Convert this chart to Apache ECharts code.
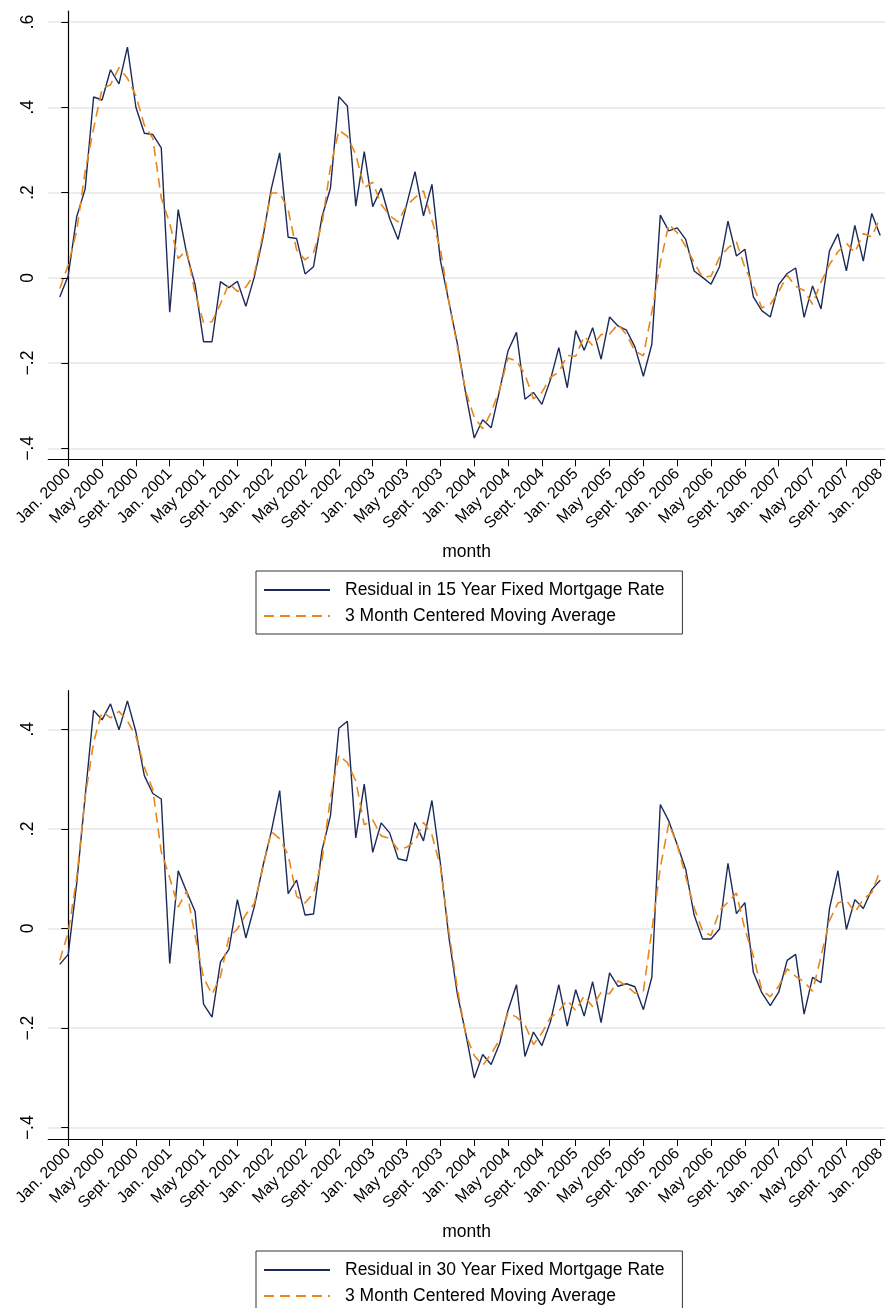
<!DOCTYPE html>
<html>
<head>
<meta charset="utf-8">
<script src="https://cdn.jsdelivr.net/npm/echarts@6/dist/echarts.min.js"></script>
<style>
  html, body { margin: 0; padding: 0; background: #fff; }
  #main { width: 888px; height: 1308px; }
</style>
</head>
<body>
<div id="main"></div>
<script>
// months run from Dec. 1999 (index -1) to Jan. 2008 (index 96)
var firstMonth = -1;

var xTicks = [0, 4, 8, 12, 16, 20, 24, 28, 32, 36, 40, 44, 48, 52, 56, 60, 64, 68, 72, 76, 80, 84, 88, 92, 96];
var xTickLabels = ['Jan. 2000', 'May 2000', 'Sept. 2000', 'Jan. 2001', 'May 2001', 'Sept. 2001',
    'Jan. 2002', 'May 2002', 'Sept. 2002', 'Jan. 2003', 'May 2003', 'Sept. 2003',
    'Jan. 2004', 'May 2004', 'Sept. 2004', 'Jan. 2005', 'May 2005', 'Sept. 2005',
    'Jan. 2006', 'May 2006', 'Sept. 2006', 'Jan. 2007', 'May 2007', 'Sept. 2007', 'Jan. 2008'];

var yTicksTop = [-0.4, -0.2, 0, 0.2, 0.4, 0.6];
var yLabelsTop = ['\u2212.4', '\u2212.2', '0', '.2', '.4', '.6'];
var yTicksBottom = [-0.4, -0.2, 0, 0.2, 0.4];
var yLabelsBottom = ['\u2212.4', '\u2212.2', '0', '.2', '.4'];

// 15 year fixed
var res15 = [-0.045, 0.005, 0.143, 0.208, 0.424, 0.417, 0.488, 0.455, 0.541, 0.400,
    0.339, 0.336, 0.305, -0.081, 0.160, 0.057, -0.016, -0.150, -0.150, -0.009,
    -0.023, -0.008, -0.067, 0.002, 0.092, 0.208, 0.293, 0.095, 0.092, 0.009,
    0.026, 0.143, 0.210, 0.425, 0.403, 0.168, 0.296, 0.167, 0.210, 0.139,
    0.090, 0.171, 0.249, 0.145, 0.219, 0.041, -0.056, -0.154, -0.272, -0.376,
    -0.333, -0.352, -0.264, -0.171, -0.128, -0.285, -0.269, -0.297, -0.240, -0.164,
    -0.258, -0.124, -0.170, -0.117, -0.191, -0.092, -0.113, -0.123, -0.162, -0.231,
    -0.156, 0.147, 0.110, 0.117, 0.090, 0.016, 0.001, -0.015, 0.026, 0.133,
    0.051, 0.067, -0.045, -0.077, -0.092, -0.016, 0.010, 0.023, -0.093, -0.019,
    -0.073, 0.063, 0.103, 0.016, 0.123, 0.039, 0.151, 0.099];
var ma15 = [-0.025, 0.030, 0.110, 0.250, 0.350, 0.443, 0.453, 0.493, 0.468, 0.427,
    0.358, 0.327, 0.187, 0.128, 0.045, 0.065, -0.036, -0.105, -0.103, -0.061,
    -0.013, -0.032, -0.022, 0.009, 0.100, 0.199, 0.199, 0.160, 0.065, 0.042,
    0.059, 0.126, 0.259, 0.346, 0.332, 0.289, 0.211, 0.224, 0.172, 0.146,
    0.131, 0.170, 0.188, 0.204, 0.135, 0.068, -0.056, -0.161, -0.267, -0.327,
    -0.354, -0.316, -0.262, -0.188, -0.195, -0.227, -0.284, -0.269, -0.234, -0.221,
    -0.182, -0.184, -0.137, -0.159, -0.133, -0.132, -0.109, -0.133, -0.172, -0.183,
    -0.080, 0.034, 0.125, 0.106, 0.074, 0.036, 0.001, 0.004, 0.048, 0.070,
    0.084, 0.024, -0.018, -0.071, -0.062, -0.033, 0.006, -0.020, -0.030, -0.062,
    -0.010, 0.031, 0.061, 0.081, 0.059, 0.104, 0.096, 0.142];

// 30 year fixed
var res30 = [-0.072, -0.052, 0.090, 0.265, 0.438, 0.419, 0.451, 0.399, 0.457, 0.395,
    0.307, 0.271, 0.260, -0.070, 0.116, 0.074, 0.034, -0.152, -0.178, -0.067,
    -0.042, 0.058, -0.019, 0.044, 0.124, 0.194, 0.277, 0.070, 0.097, 0.027,
    0.029, 0.157, 0.226, 0.402, 0.416, 0.182, 0.290, 0.153, 0.212, 0.192,
    0.140, 0.136, 0.213, 0.176, 0.257, 0.131, -0.017, -0.131, -0.211, -0.300,
    -0.253, -0.273, -0.231, -0.164, -0.113, -0.257, -0.208, -0.235, -0.188, -0.113,
    -0.196, -0.123, -0.176, -0.107, -0.189, -0.089, -0.116, -0.111, -0.117, -0.163,
    -0.098, 0.249, 0.216, 0.168, 0.119, 0.027, -0.021, -0.021, -0.001, 0.131,
    0.030, 0.052, -0.088, -0.129, -0.155, -0.128, -0.064, -0.052, -0.172, -0.098,
    -0.109, 0.040, 0.116, -0.002, 0.058, 0.040, 0.078, 0.097];
var ma30 = [-0.064, -0.008, 0.101, 0.264, 0.374, 0.436, 0.423, 0.436, 0.417, 0.386,
    0.324, 0.279, 0.154, 0.102, 0.043, 0.075, -0.015, -0.099, -0.132, -0.096,
    -0.017, -0.001, 0.028, 0.050, 0.121, 0.195, 0.180, 0.148, 0.065, 0.051,
    0.071, 0.137, 0.262, 0.348, 0.333, 0.296, 0.208, 0.218, 0.186, 0.181,
    0.158, 0.163, 0.175, 0.213, 0.188, 0.124, -0.006, -0.120, -0.214, -0.255,
    -0.275, -0.252, -0.223, -0.169, -0.178, -0.193, -0.233, -0.210, -0.179, -0.166,
    -0.144, -0.165, -0.135, -0.157, -0.128, -0.131, -0.105, -0.115, -0.130, -0.126,
    -0.004, 0.122, 0.211, 0.168, 0.105, 0.042, -0.005, -0.014, 0.036, 0.053,
    0.071, -0.002, -0.055, -0.124, -0.137, -0.116, -0.081, -0.096, -0.107, -0.126,
    -0.056, 0.016, 0.051, 0.057, 0.032, 0.059, 0.072, 0.117];

var nameRes15 = 'Residual in 15 Year Fixed Mortgage Rate';
var nameRes30 = 'Residual in 30 Year Fixed Mortgage Rate';
var nameMA = '3 Month Centered Moving Average';

var font = '"Liberation Sans", Arial, Helvetica, sans-serif';
var navy = '#1b2a5a';
var orange = '#e8871a';

function pairs(arr) {
    return arr.map(function (v, i) { return [firstMonth + i, v]; });
}

function pickLabel(ticks, labels) {
    return function (v) {
        for (var i = 0; i < ticks.length; i++) {
            if (Math.abs(ticks[i] - v) < 1e-6) return labels[i];
        }
        return '';
    };
}

function makeX(idx) {
    return {
        type: 'value', gridIndex: idx, min: -2.356, max: 96.55,
        name: 'month', nameLocation: 'middle', nameGap: 84,
        nameTextStyle: { fontFamily: font, fontSize: 17.5, color: '#000' },
        axisLine: { show: true, onZero: false, lineStyle: { color: '#000', width: 1.2 } },
        axisTick: { show: true, customValues: xTicks, length: 7, lineStyle: { color: '#000', width: 1 } },
        axisLabel: {
            customValues: xTicks, rotate: 45, margin: 12, fontFamily: font, fontSize: 16, color: '#000',
            formatter: pickLabel(xTicks, xTickLabels)
        },
        splitLine: { show: false }
    };
}

function makeY(idx, mn, mx, ticks, labels) {
    return {
        type: 'value', gridIndex: idx, min: mn, max: mx,
        axisLine: { show: true, lineStyle: { color: '#000', width: 1.2 } },
        axisTick: { show: true, customValues: ticks, length: 7, lineStyle: { color: '#000', width: 1 } },
        axisLabel: {
            customValues: ticks, rotate: 90, margin: 11, fontFamily: font, fontSize: 17.5, color: '#000',
            formatter: pickLabel(ticks, labels)
        },
        splitLine: { show: true, lineStyle: { color: '#e6e6e6', width: 1.5 } }
    };
}

// the lower legend box runs past the bottom edge, so give it a fixed height to keep it vertical
function makeLegend(top, names) {
    return {
        data: names, orient: 'vertical', left: 256, top: top, height: 60,
        padding: [10, 18, 9, 7], itemGap: 8, itemWidth: 66, itemHeight: 14,
        borderColor: '#333', borderWidth: 1, selectedMode: false,
        itemStyle: { opacity: 0 },
        textStyle: { fontFamily: font, fontSize: 17.5, color: '#000', padding: [0, 0, 0, 10] }
    };
}

var myChart = echarts.init(document.getElementById('main'));
var option = {
    animation: false,
    backgroundColor: '#fff',
    grid: [
        { left: 48.3, right: 0, top: 11, height: 448.3 },
        { left: 48.3, right: 0, top: 690.7, height: 448.3 }
    ],
    xAxis: [makeX(0), makeX(1)],
    yAxis: [
        makeY(0, -0.4258, 0.6258, yTicksTop, yLabelsTop),
        makeY(1, -0.4227, 0.4775, yTicksBottom, yLabelsBottom)
    ],
    legend: [
        makeLegend(571, [nameRes15, nameMA]),
        makeLegend(1251, [nameRes30, nameMA])
    ],
    series: [
        {
            name: nameRes15, type: 'line', xAxisIndex: 0, yAxisIndex: 0, symbol: 'none',
            lineStyle: { color: navy, width: 1.4 }, itemStyle: { color: navy }, data: pairs(res15)
        },
        {
            name: nameMA, type: 'line', xAxisIndex: 0, yAxisIndex: 0, symbol: 'none',
            lineStyle: { color: orange, width: 1.6, type: [10, 6] }, itemStyle: { color: orange }, data: pairs(ma15)
        },
        {
            name: nameRes30, type: 'line', xAxisIndex: 1, yAxisIndex: 1, symbol: 'none',
            lineStyle: { color: navy, width: 1.4 }, itemStyle: { color: navy }, data: pairs(res30)
        },
        {
            name: nameMA, type: 'line', xAxisIndex: 1, yAxisIndex: 1, symbol: 'none',
            lineStyle: { color: orange, width: 1.6, type: [10, 6] }, itemStyle: { color: orange }, data: pairs(ma30)
        }
    ]
};
myChart.setOption(option);
</script>
</body>
</html>
